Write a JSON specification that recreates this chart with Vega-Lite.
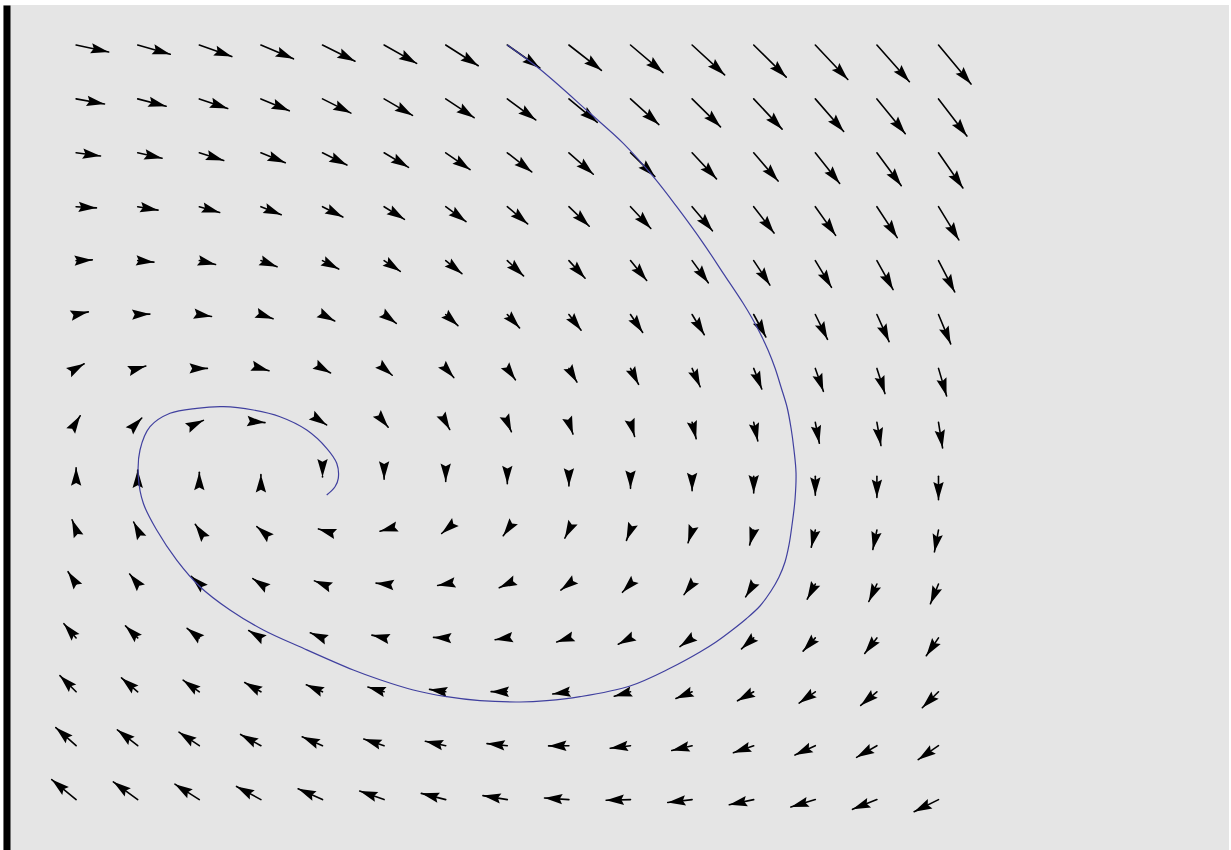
{
  "$schema": "https://vega.github.io/schema/vega-lite/v6.json",
  "width": 1226,
  "height": 845,
  "autosize": {"type": "none"},
  "padding": {"left": 3, "top": 5, "right": 0, "bottom": 0},
  "background": "white",
  "config": {"view": {"fill": "#e5e5e5", "stroke": null}},
  "datasets": {
    "field": [
      {"x":0,"y":14,"x2":0.528,"y2":13.870,"a":12.2},{"x":1,"y":14,"x2":1.528,"y2":13.828,"a":16.0},{"x":2,"y":14,"x2":2.528,"y2":13.785,"a":19.6},{"x":3,"y":14,"x2":3.528,"y2":13.743,"a":23.1},{"x":4,"y":14,"x2":4.528,"y2":13.700,"a":26.4},{"x":5,"y":14,"x2":5.528,"y2":13.658,"a":29.6},{"x":6,"y":14,"x2":6.528,"y2":13.615,"a":32.5},{"x":7,"y":14,"x2":7.528,"y2":13.573,"a":35.3},{"x":8,"y":14,"x2":8.528,"y2":13.530,"a":37.9},{"x":9,"y":14,"x2":9.528,"y2":13.488,"a":40.4},{"x":10,"y":14,"x2":10.528,"y2":13.445,"a":42.6},{"x":11,"y":14,"x2":11.528,"y2":13.403,"a":44.7},{"x":12,"y":14,"x2":12.528,"y2":13.360,"a":46.7},{"x":13,"y":14,"x2":13.528,"y2":13.318,"a":48.5},{"x":14,"y":14,"x2":14.528,"y2":13.275,"a":50.2},
      {"x":0,"y":13,"x2":0.461,"y2":12.906,"a":10.1},{"x":1,"y":13,"x2":1.461,"y2":12.864,"a":14.5},{"x":2,"y":13,"x2":2.461,"y2":12.821,"a":18.8},{"x":3,"y":13,"x2":3.461,"y2":12.779,"a":22.8},{"x":4,"y":13,"x2":4.461,"y2":12.736,"a":26.6},{"x":5,"y":13,"x2":5.461,"y2":12.694,"a":30.2},{"x":6,"y":13,"x2":6.461,"y2":12.651,"a":33.5},{"x":7,"y":13,"x2":7.461,"y2":12.609,"a":36.6},{"x":8,"y":13,"x2":8.461,"y2":12.566,"a":39.5},{"x":9,"y":13,"x2":9.461,"y2":12.524,"a":42.1},{"x":10,"y":13,"x2":10.461,"y2":12.481,"a":44.6},{"x":11,"y":13,"x2":11.461,"y2":12.439,"a":46.8},{"x":12,"y":13,"x2":12.461,"y2":12.396,"a":48.9},{"x":13,"y":13,"x2":13.461,"y2":12.354,"a":50.8},{"x":14,"y":13,"x2":14.461,"y2":12.311,"a":52.6},
      {"x":0,"y":12,"x2":0.396,"y2":11.942,"a":7.3},{"x":1,"y":12,"x2":1.396,"y2":11.900,"a":12.5},{"x":2,"y":12,"x2":2.396,"y2":11.857,"a":17.6},{"x":3,"y":12,"x2":3.396,"y2":11.815,"a":22.3},{"x":4,"y":12,"x2":4.396,"y2":11.772,"a":26.8},{"x":5,"y":12,"x2":5.396,"y2":11.730,"a":30.9},{"x":6,"y":12,"x2":6.396,"y2":11.687,"a":34.7},{"x":7,"y":12,"x2":7.396,"y2":11.645,"a":38.2},{"x":8,"y":12,"x2":8.396,"y2":11.602,"a":41.3},{"x":9,"y":12,"x2":9.396,"y2":11.560,"a":44.2},{"x":10,"y":12,"x2":10.396,"y2":11.517,"a":46.9},{"x":11,"y":12,"x2":11.396,"y2":11.475,"a":49.3},{"x":12,"y":12,"x2":12.396,"y2":11.432,"a":51.4},{"x":13,"y":12,"x2":13.396,"y2":11.390,"a":53.4},{"x":14,"y":12,"x2":14.396,"y2":11.347,"a":55.3},
      {"x":0,"y":11,"x2":0.330,"y2":10.978,"a":3.4},{"x":1,"y":11,"x2":1.330,"y2":10.936,"a":9.8},{"x":2,"y":11,"x2":2.330,"y2":10.893,"a":15.9},{"x":3,"y":11,"x2":3.330,"y2":10.851,"a":21.7},{"x":4,"y":11,"x2":4.330,"y2":10.808,"a":27.1},{"x":5,"y":11,"x2":5.330,"y2":10.766,"a":31.9},{"x":6,"y":11,"x2":6.330,"y2":10.723,"a":36.4},{"x":7,"y":11,"x2":7.330,"y2":10.681,"a":40.3},{"x":8,"y":11,"x2":8.330,"y2":10.638,"a":43.9},{"x":9,"y":11,"x2":9.330,"y2":10.596,"a":47.1},{"x":10,"y":11,"x2":10.330,"y2":10.553,"a":49.9},{"x":11,"y":11,"x2":11.330,"y2":10.511,"a":52.4},{"x":12,"y":11,"x2":12.330,"y2":10.468,"a":54.7},{"x":13,"y":11,"x2":13.330,"y2":10.426,"a":56.8},{"x":14,"y":11,"x2":14.330,"y2":10.383,"a":58.6},
      {"x":0,"y":10,"x2":0.263,"y2":10.013,"a":-2.5},{"x":1,"y":10,"x2":1.263,"y2":9.971,"a":5.5},{"x":2,"y":10,"x2":2.263,"y2":9.928,"a":13.4},{"x":3,"y":10,"x2":3.263,"y2":9.886,"a":20.8},{"x":4,"y":10,"x2":4.263,"y2":9.843,"a":27.5},{"x":5,"y":10,"x2":5.263,"y2":9.801,"a":33.5},{"x":6,"y":10,"x2":6.263,"y2":9.758,"a":38.8},{"x":7,"y":10,"x2":7.263,"y2":9.716,"a":43.4},{"x":8,"y":10,"x2":8.263,"y2":9.673,"a":47.4},{"x":9,"y":10,"x2":9.263,"y2":9.631,"a":50.8},{"x":10,"y":10,"x2":10.263,"y2":9.588,"a":53.9},{"x":11,"y":10,"x2":11.263,"y2":9.546,"a":56.5},{"x":12,"y":10,"x2":12.263,"y2":9.503,"a":58.8},{"x":13,"y":10,"x2":13.263,"y2":9.461,"a":60.9},{"x":14,"y":10,"x2":14.263,"y2":9.418,"a":62.7},
      {"x":0,"y":9,"x2":0.198,"y2":9.049,"a":-12.3},{"x":1,"y":9,"x2":1.198,"y2":9.007,"a":-1.7},{"x":2,"y":9,"x2":2.198,"y2":8.964,"a":9.0},{"x":3,"y":9,"x2":3.198,"y2":8.922,"a":19.1},{"x":4,"y":9,"x2":4.198,"y2":8.879,"a":28.1},{"x":5,"y":9,"x2":5.198,"y2":8.837,"a":35.8},{"x":6,"y":9,"x2":6.198,"y2":8.794,"a":42.3},{"x":7,"y":9,"x2":7.198,"y2":8.752,"a":47.6},{"x":8,"y":9,"x2":8.198,"y2":8.709,"a":52.1},{"x":9,"y":9,"x2":9.198,"y2":8.667,"a":55.8},{"x":10,"y":9,"x2":10.198,"y2":8.624,"a":58.9},{"x":11,"y":9,"x2":11.198,"y2":8.582,"a":61.6},{"x":12,"y":9,"x2":12.198,"y2":8.539,"a":63.8},{"x":13,"y":9,"x2":13.198,"y2":8.497,"a":65.8},{"x":14,"y":9,"x2":14.198,"y2":8.454,"a":67.5},
      {"x":0,"y":8,"x2":0.131,"y2":8.085,"a":-29.5},{"x":1,"y":8,"x2":1.131,"y2":8.043,"a":-15.8},{"x":2,"y":8,"x2":2.131,"y2":8.000,"a":0},{"x":3,"y":8,"x2":3.131,"y2":7.958,"a":15.8},{"x":4,"y":8,"x2":4.131,"y2":7.915,"a":29.5},{"x":5,"y":8,"x2":5.131,"y2":7.873,"a":40.3},{"x":6,"y":8,"x2":6.131,"y2":7.830,"a":48.5},{"x":7,"y":8,"x2":7.131,"y2":7.788,"a":54.7},{"x":8,"y":8,"x2":8.131,"y2":7.745,"a":59.5},{"x":9,"y":8,"x2":9.131,"y2":7.703,"a":63.2},{"x":10,"y":8,"x2":10.131,"y2":7.660,"a":66.1},{"x":11,"y":8,"x2":11.131,"y2":7.618,"a":68.5},{"x":12,"y":8,"x2":12.131,"y2":7.575,"a":70.5},{"x":13,"y":8,"x2":13.131,"y2":7.533,"a":72.2},{"x":14,"y":8,"x2":14.131,"y2":7.490,"a":73.6},
      {"x":0,"y":7,"x2":0.066,"y2":7.121,"a":-58.0},{"x":1,"y":7,"x2":1.066,"y2":7.079,"a":-46.1},{"x":2,"y":7,"x2":2.066,"y2":7.036,"a":-25.4},{"x":3,"y":7,"x2":3.066,"y2":6.994,"a":5.1},{"x":4,"y":7,"x2":4.066,"y2":6.951,"a":33.1},{"x":5,"y":7,"x2":5.066,"y2":6.909,"a":50.6},{"x":6,"y":7,"x2":6.066,"y2":6.866,"a":60.7},{"x":7,"y":7,"x2":7.066,"y2":6.824,"a":66.9},{"x":8,"y":7,"x2":8.066,"y2":6.781,"a":71.0},{"x":9,"y":7,"x2":9.066,"y2":6.739,"a":73.9},{"x":10,"y":7,"x2":10.066,"y2":6.696,"a":76.1},{"x":11,"y":7,"x2":11.066,"y2":6.654,"a":77.7},{"x":12,"y":7,"x2":12.066,"y2":6.611,"a":79.0},{"x":13,"y":7,"x2":13.066,"y2":6.569,"a":80.1},{"x":14,"y":7,"x2":14.066,"y2":6.526,"a":81.0},
      {"x":0,"y":6,"x2":0,"y2":6.157,"a":-90},{"x":1,"y":6,"x2":1,"y2":6.115,"a":-90},{"x":2,"y":6,"x2":2,"y2":6.072,"a":-90},{"x":3,"y":6,"x2":3,"y2":6.030,"a":-90},{"x":4,"y":6,"x2":4,"y2":5.987,"a":90},{"x":5,"y":6,"x2":5,"y2":5.945,"a":90},{"x":6,"y":6,"x2":6,"y2":5.902,"a":90},{"x":7,"y":6,"x2":7,"y2":5.860,"a":90},{"x":8,"y":6,"x2":8,"y2":5.817,"a":90},{"x":9,"y":6,"x2":9,"y2":5.775,"a":90},{"x":10,"y":6,"x2":10,"y2":5.732,"a":90},{"x":11,"y":6,"x2":11,"y2":5.690,"a":90},{"x":12,"y":6,"x2":12,"y2":5.647,"a":90},{"x":13,"y":6,"x2":13,"y2":5.605,"a":90},{"x":14,"y":6,"x2":14,"y2":5.562,"a":90},
      {"x":0,"y":5,"x2":-0.066,"y2":5.192,"a":-111.4},{"x":1,"y":5,"x2":0.934,"y2":5.150,"a":-116.7},{"x":2,"y":5,"x2":1.934,"y2":5.107,"a":-125.0},{"x":3,"y":5,"x2":2.934,"y2":5.065,"a":-139.2},{"x":4,"y":5,"x2":3.934,"y2":5.022,"a":-163.4},{"x":5,"y":5,"x2":4.934,"y2":4.980,"a":165.1},{"x":6,"y":5,"x2":5.934,"y2":4.937,"a":140.3},{"x":7,"y":5,"x2":6.934,"y2":4.895,"a":125.7},{"x":8,"y":5,"x2":7.934,"y2":4.852,"a":117.1},{"x":9,"y":5,"x2":8.934,"y2":4.810,"a":111.6},{"x":10,"y":5,"x2":9.934,"y2":4.767,"a":108.0},{"x":11,"y":5,"x2":10.934,"y2":4.725,"a":105.3},{"x":12,"y":5,"x2":11.934,"y2":4.682,"a":103.3},{"x":13,"y":5,"x2":12.934,"y2":4.640,"a":101.8},{"x":14,"y":5,"x2":13.934,"y2":4.597,"a":100.6},
      {"x":0,"y":4,"x2":-0.131,"y2":4.228,"a":-123.4},{"x":1,"y":4,"x2":0.869,"y2":4.186,"a":-129.0},{"x":2,"y":4,"x2":1.869,"y2":4.143,"a":-136.4},{"x":3,"y":4,"x2":2.869,"y2":4.101,"a":-146.2},{"x":4,"y":4,"x2":3.869,"y2":4.058,"a":-158.8},{"x":5,"y":4,"x2":4.869,"y2":4.016,"a":-174.0},{"x":6,"y":4,"x2":5.869,"y2":3.973,"a":169.9},{"x":7,"y":4,"x2":6.869,"y2":3.931,"a":155.3},{"x":8,"y":4,"x2":7.869,"y2":3.888,"a":143.4},{"x":9,"y":4,"x2":8.869,"y2":3.846,"a":134.3},{"x":10,"y":4,"x2":9.869,"y2":3.803,"a":127.4},{"x":11,"y":4,"x2":10.869,"y2":3.761,"a":122.2},{"x":12,"y":4,"x2":11.869,"y2":3.718,"a":118.1},{"x":13,"y":4,"x2":12.869,"y2":3.676,"a":114.9},{"x":14,"y":4,"x2":13.869,"y2":3.633,"a":112.3},
      {"x":0,"y":3,"x2":-0.198,"y2":3.264,"a":-130.6},{"x":1,"y":3,"x2":0.802,"y2":3.222,"a":-135.6},{"x":2,"y":3,"x2":1.802,"y2":3.179,"a":-141.7},{"x":3,"y":3,"x2":2.802,"y2":3.137,"a":-148.9},{"x":4,"y":3,"x2":3.802,"y2":3.094,"a":-157.4},{"x":5,"y":3,"x2":4.802,"y2":3.052,"a":-167.2},{"x":6,"y":3,"x2":5.802,"y2":3.009,"a":-177.7},{"x":7,"y":3,"x2":6.802,"y2":2.967,"a":171.6},{"x":8,"y":3,"x2":7.802,"y2":2.924,"a":161.5},{"x":9,"y":3,"x2":8.802,"y2":2.882,"a":152.4},{"x":10,"y":3,"x2":9.802,"y2":2.839,"a":144.6},{"x":11,"y":3,"x2":10.802,"y2":2.797,"a":138.1},{"x":12,"y":3,"x2":11.802,"y2":2.754,"a":132.6},{"x":13,"y":3,"x2":12.802,"y2":2.712,"a":128.1},{"x":14,"y":3,"x2":13.802,"y2":2.669,"a":124.4},
      {"x":0,"y":2,"x2":-0.263,"y2":2.300,"a":-135.1},{"x":1,"y":2,"x2":0.737,"y2":2.258,"a":-139.4},{"x":2,"y":2,"x2":1.737,"y2":2.215,"a":-144.4},{"x":3,"y":2,"x2":2.737,"y2":2.173,"a":-150.2},{"x":4,"y":2,"x2":3.737,"y2":2.130,"a":-156.6},{"x":5,"y":2,"x2":4.737,"y2":2.088,"a":-163.8},{"x":6,"y":2,"x2":5.737,"y2":2.045,"a":-171.5},{"x":7,"y":2,"x2":6.737,"y2":2.003,"a":-179.5},{"x":8,"y":2,"x2":7.737,"y2":1.960,"a":172.4},{"x":9,"y":2,"x2":8.737,"y2":1.918,"a":164.6},{"x":10,"y":2,"x2":9.737,"y2":1.875,"a":157.4},{"x":11,"y":2,"x2":10.737,"y2":1.833,"a":150.9},{"x":12,"y":2,"x2":11.737,"y2":1.790,"a":145.1},{"x":13,"y":2,"x2":12.737,"y2":1.748,"a":140.0},{"x":14,"y":2,"x2":13.737,"y2":1.705,"a":135.5},
      {"x":0,"y":1,"x2":-0.330,"y2":1.336,"a":-138.3},{"x":1,"y":1,"x2":0.670,"y2":1.294,"a":-142.1},{"x":2,"y":1,"x2":1.670,"y2":1.251,"a":-146.4},{"x":3,"y":1,"x2":2.670,"y2":1.209,"a":-151.1},{"x":4,"y":1,"x2":3.670,"y2":1.166,"a":-156.3},{"x":5,"y":1,"x2":4.670,"y2":1.124,"a":-161.9},{"x":6,"y":1,"x2":5.670,"y2":1.081,"a":-167.9},{"x":7,"y":1,"x2":6.670,"y2":1.039,"a":-174.2},{"x":8,"y":1,"x2":7.670,"y2":0.996,"a":179.4},{"x":9,"y":1,"x2":8.670,"y2":0.954,"a":172.9},{"x":10,"y":1,"x2":9.670,"y2":0.911,"a":166.7},{"x":11,"y":1,"x2":10.670,"y2":0.869,"a":160.7},{"x":12,"y":1,"x2":11.670,"y2":0.826,"a":155.2},{"x":13,"y":1,"x2":12.670,"y2":0.784,"a":150.1},{"x":14,"y":1,"x2":13.670,"y2":0.741,"a":145.5},
      {"x":0,"y":0,"x2":-0.396,"y2":0.371,"a":-140.6},{"x":1,"y":0,"x2":0.604,"y2":0.329,"a":-144.0},{"x":2,"y":0,"x2":1.604,"y2":0.286,"a":-147.7},{"x":3,"y":0,"x2":2.604,"y2":0.244,"a":-151.7},{"x":4,"y":0,"x2":3.604,"y2":0.201,"a":-156.0},{"x":5,"y":0,"x2":4.604,"y2":0.159,"a":-160.6},{"x":6,"y":0,"x2":5.604,"y2":0.116,"a":-165.6},{"x":7,"y":0,"x2":6.604,"y2":0.074,"a":-170.7},{"x":8,"y":0,"x2":7.604,"y2":0.031,"a":-176.0},{"x":9,"y":0,"x2":8.604,"y2":-0.011,"a":178.6},{"x":10,"y":0,"x2":9.604,"y2":-0.054,"a":173.3},{"x":11,"y":0,"x2":10.604,"y2":-0.096,"a":168.0},{"x":12,"y":0,"x2":11.604,"y2":-0.139,"a":163.0},{"x":13,"y":0,"x2":12.604,"y2":-0.181,"a":158.2},{"x":14,"y":0,"x2":13.604,"y2":-0.224,"a":153.7}
    ],
    "traj": [
      {"i":1,"x":7.000,"y":14.000},{"i":2,"x":7.531,"y":13.549},{"i":3,"x":8.343,"y":12.733},{"i":4,"x":8.883,"y":12.176},{"i":5,"x":9.370,"y":11.557},{"i":6,"x":9.750,"y":11.000},{"i":7,"x":10.182,"y":10.321},{"i":8,"x":10.506,"y":9.764},{"i":9,"x":10.826,"y":9.213},{"i":10,"x":10.972,"y":8.935},{"i":11,"x":11.102,"y":8.657},{"i":12,"x":11.232,"y":8.341},{"i":13,"x":11.346,"y":8.007},{"i":14,"x":11.443,"y":7.655},{"i":15,"x":11.541,"y":7.284},{"i":16,"x":11.606,"y":6.894},{"i":17,"x":11.654,"y":6.486},{"i":18,"x":11.687,"y":6.059},{"i":19,"x":11.670,"y":5.558},{"i":20,"x":11.622,"y":5.095},{"i":21,"x":11.573,"y":4.724},{"i":22,"x":11.508,"y":4.408},{"i":23,"x":11.411,"y":4.130},{"i":24,"x":11.281,"y":3.870},{"i":25,"x":11.102,"y":3.592},{"i":26,"x":10.875,"y":3.351},{"i":27,"x":10.631,"y":3.128},{"i":28,"x":10.388,"y":2.924},{"i":29,"x":10.128,"y":2.738},{"i":30,"x":9.641,"y":2.436},{"i":31,"x":8.992,"y":2.108},{"i":32,"x":8.180,"y":1.909},{"i":33,"x":7.640,"y":1.835},{"i":34,"x":7.206,"y":1.811},{"i":35,"x":6.557,"y":1.835},{"i":36,"x":6.016,"y":1.909},{"i":37,"x":5.474,"y":2.033},{"i":38,"x":4.933,"y":2.223},{"i":39,"x":4.500,"y":2.404},{"i":40,"x":3.688,"y":2.807},{"i":41,"x":3.039,"y":3.147},{"i":42,"x":2.498,"y":3.518},{"i":43,"x":2.011,"y":3.950},{"i":44,"x":1.633,"y":4.445},{"i":45,"x":1.308,"y":5.002},{"i":46,"x":1.091,"y":5.497},{"i":47,"x":1.010,"y":5.991},{"i":48,"x":1.037,"y":6.486},{"i":49,"x":1.200,"y":6.918},{"i":50,"x":1.524,"y":7.167},{"i":51,"x":1.958,"y":7.260},{"i":52,"x":2.390,"y":7.289},{"i":53,"x":2.877,"y":7.228},{"i":54,"x":3.310,"y":7.104},{"i":55,"x":3.744,"y":6.857},{"i":56,"x":4.068,"y":6.518},{"i":57,"x":4.231,"y":6.239},{"i":58,"x":4.256,"y":5.961},{"i":59,"x":4.203,"y":5.805},{"i":60,"x":4.068,"y":5.651}
    ]
  },
  "encoding": {
    "x": {"type": "quantitative", "scale": {"domain": [-1.187, 18.716], "nice": false, "zero": false}, "axis": null},
    "y": {"type": "quantitative", "scale": {"domain": [-0.935, 14.742], "nice": false, "zero": false},
      "axis": {"domain": true, "domainWidth": 7, "domainColor": "black", "offset": -3.5, "ticks": false, "labels": false, "grid": false, "title": null}}
  },
  "layer": [
    {
      "data": {"name": "field"},
      "mark": {"type": "rule", "color": "black", "strokeWidth": 1.6, "strokeCap": "round"},
      "encoding": {
        "x": {"field": "x", "type": "quantitative"},
        "y": {"field": "y", "type": "quantitative"},
        "x2": {"field": "x2"},
        "y2": {"field": "y2"}
      }
    },
    {
      "data": {"name": "field"},
      "mark": {"type": "point", "shape": "M0,0L-2,-0.58L-1.7,0L-2,0.58Z", "filled": true, "fill": "black", "stroke": null, "opacity": 1, "size": 320},
      "encoding": {
        "x": {"field": "x2", "type": "quantitative"},
        "y": {"field": "y2", "type": "quantitative"},
        "angle": {"field": "a", "type": "quantitative", "scale": null}
      }
    },
    {
      "data": {"name": "traj"},
      "mark": {"type": "line", "color": "#40409f", "strokeWidth": 1.2, "interpolate": "catmull-rom"},
      "encoding": {
        "x": {"field": "x", "type": "quantitative"},
        "y": {"field": "y", "type": "quantitative"},
        "order": {"field": "i", "type": "quantitative"}
      }
    }
  ]
}
